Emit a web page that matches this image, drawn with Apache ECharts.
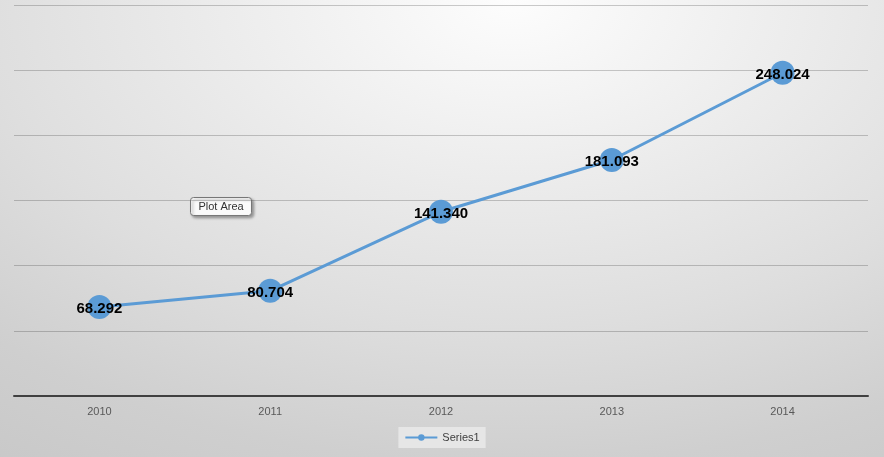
<!DOCTYPE html>
<html><head><meta charset="utf-8">
<script src="https://cdn.jsdelivr.net/npm/echarts@6/dist/echarts.min.js"></script>
<style>html,body{margin:0;padding:0;}
#c{width:884px;height:457px;background:radial-gradient(ellipse 110% 130% at 58% 0%, #fdfdfd 0%, #ececec 30%, #dedede 55%, #cfcfcf 78%, #c6c6c6 100%);}</style>
</head><body><div id="c"></div>
<script>
var categories = ['2010', '2011', '2012', '2013', '2014'];
var values = [68.292, 80.704, 141.340, 181.093, 248.024];
var chart = echarts.init(document.getElementById('c'));
chart.setOption({
  backgroundColor: 'transparent',
  animation: false,
  grid: {left: 14, right: 16, top: 5, bottom: 61},
  legend: {
    bottom: 9, left: 'center',
    data: ['Series1'],
    itemWidth: 32, itemHeight: 8,
    padding: [5, 6, 5, 6],
    backgroundColor: 'rgba(232,232,232,0.9)',
    textStyle: {fontFamily: 'Liberation Sans', fontSize: 11, color: '#404040'},
    itemGap: 4
  },
  xAxis: {
    type: 'category', data: categories,
    axisLine: {lineStyle: {color: '#404040', width: 2}},
    axisTick: {show: false},
    axisLabel: {fontFamily: 'Liberation Sans', fontSize: 11, color: '#595959', margin: 10}
  },
  yAxis: {
    type: 'value', min: 0, max: 300, interval: 50,
    axisLabel: {show: false},
    axisLine: {show: false}, axisTick: {show: false},
    splitLine: {lineStyle: {color: 'rgba(0,0,0,0.2)', width: 1}}
  },
  series: [{
    name: 'Series1', type: 'line', data: values,
    symbol: 'circle', symbolSize: 24,
    lineStyle: {color: '#5b9bd5', width: 3},
    itemStyle: {color: '#5b9bd5'},
    label: {
      show: true, position: 'inside', offset: [0, 2],
      formatter: function (p) { return p.value.toFixed(3); },
      fontFamily: 'Liberation Sans', fontWeight: 'bold', fontSize: 15, color: '#000'
    }
  }],
  graphic: [{
    type: 'group', left: 190, top: 197,
    children: [
      {type: 'rect', shape: {x: 0, y: 0, width: 61, height: 18, r: 3},
       style: {fill: '#fafafa', stroke: '#777', lineWidth: 1, shadowBlur: 3, shadowOffsetX: 2, shadowOffsetY: 2, shadowColor: 'rgba(0,0,0,0.35)'}},
      {type: 'text', x: 30.5, y: 9,
       style: {text: 'Plot Area', fontFamily: 'Liberation Sans', fontSize: 11, fill: '#333', align: 'center', verticalAlign: 'middle'}}
    ]
  }]
});
</script></body></html>
